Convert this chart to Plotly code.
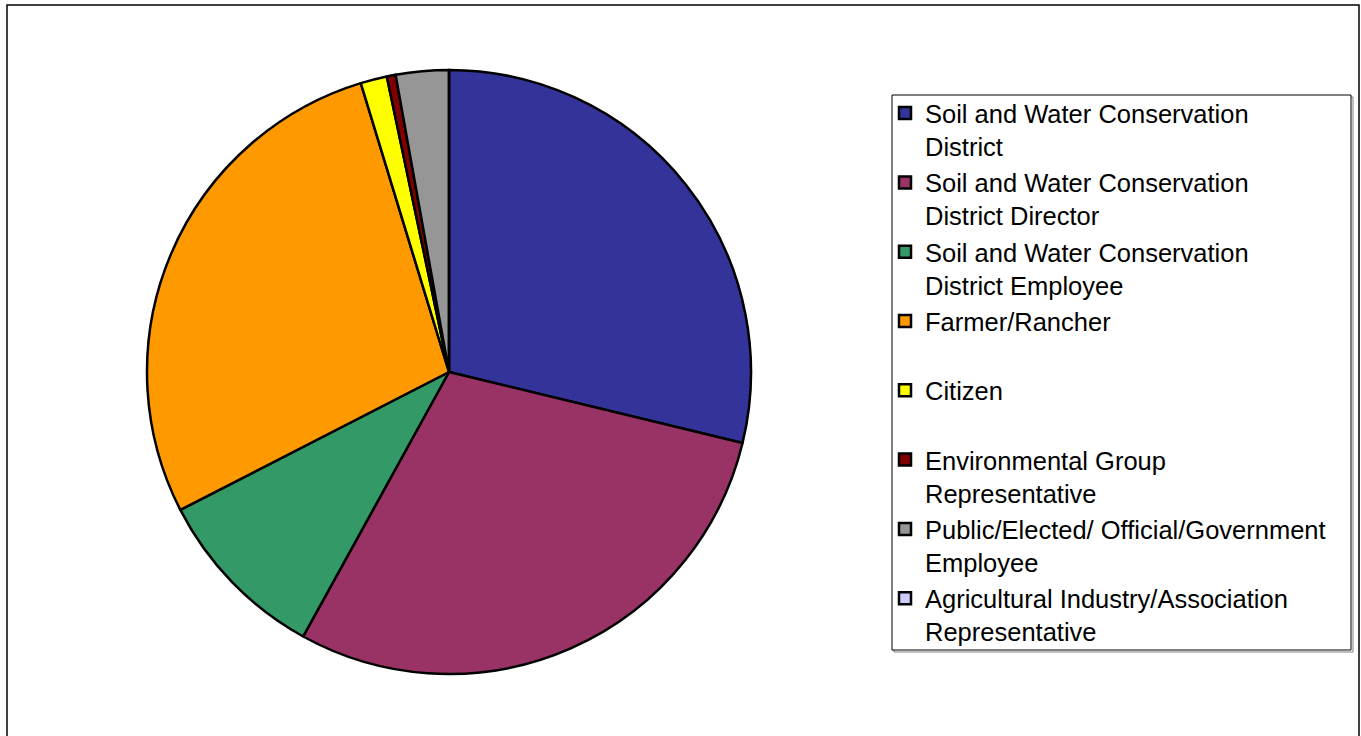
import plotly.graph_objects as go

# Respondent categories and counts
categories = [
    "Soil and Water Conservation<br>District",
    "Soil and Water Conservation<br>District Director",
    "Soil and Water Conservation<br>District Employee",
    "Farmer/Rancher<br> ",
    "Citizen<br> ",
    "Environmental Group<br>Representative",
    "Public/Elected/ Official/Government<br>Employee",
    "Agricultural Industry/Association<br>Representative",
]
counts = [61, 62, 20, 59, 3, 1, 6, 0]
colors = ["#333399", "#993366", "#339966", "#FF9900", "#FFFF00", "#800000", "#969696", "#CCCCFF"]

W, H = 1361, 736
FONT = "Arial, Liberation Sans, sans-serif"
FS = 25.5

fig = go.Figure(
    go.Pie(
        labels=categories,
        values=counts,
        sort=False,
        direction="clockwise",
        rotation=0,
        textinfo="none",
        marker=dict(colors=colors, line=dict(color="black", width=2.5)),
        domain=dict(x=[147 / W, 751 / W], y=[1 - 674 / H, 1 - 70 / H]),
    )
)

# outer chart frame
fig.add_shape(type="rect", xref="paper", yref="paper",
              x0=7 / W, x1=1359 / W, y0=-0.02, y1=1 - 5 / H,
              line=dict(color="black", width=1.5), fillcolor="rgba(0,0,0,0)")
# legend frame with a light drop shadow
fig.add_shape(type="rect", xref="paper", yref="paper",
              x0=894 / W, x1=1353 / W, y0=1 - 652 / H, y1=1 - 97 / H,
              line=dict(color="#808080", width=1), fillcolor="rgba(0,0,0,0)", layer="below")
fig.add_shape(type="rect", xref="paper", yref="paper",
              x0=892 / W, x1=1351 / W, y0=1 - 650 / H, y1=1 - 95 / H,
              line=dict(color="black", width=1), fillcolor="white", layer="below")

fig.update_layout(
    width=W,
    height=H,
    margin=dict(l=0, r=0, t=0, b=0),
    paper_bgcolor="white",
    plot_bgcolor="white",
    font=dict(family=FONT, size=FS, color="black"),
    legend=dict(
        x=885 / W, xanchor="left",
        y=1 - 90 / H, yanchor="top",
        borderwidth=0,
        bgcolor="rgba(0,0,0,0)",
        valign="top",
        font=dict(family=FONT, size=FS, color="black"),
        traceorder="normal",
    ),
    showlegend=True,
)

fig.write_html("out.html")
